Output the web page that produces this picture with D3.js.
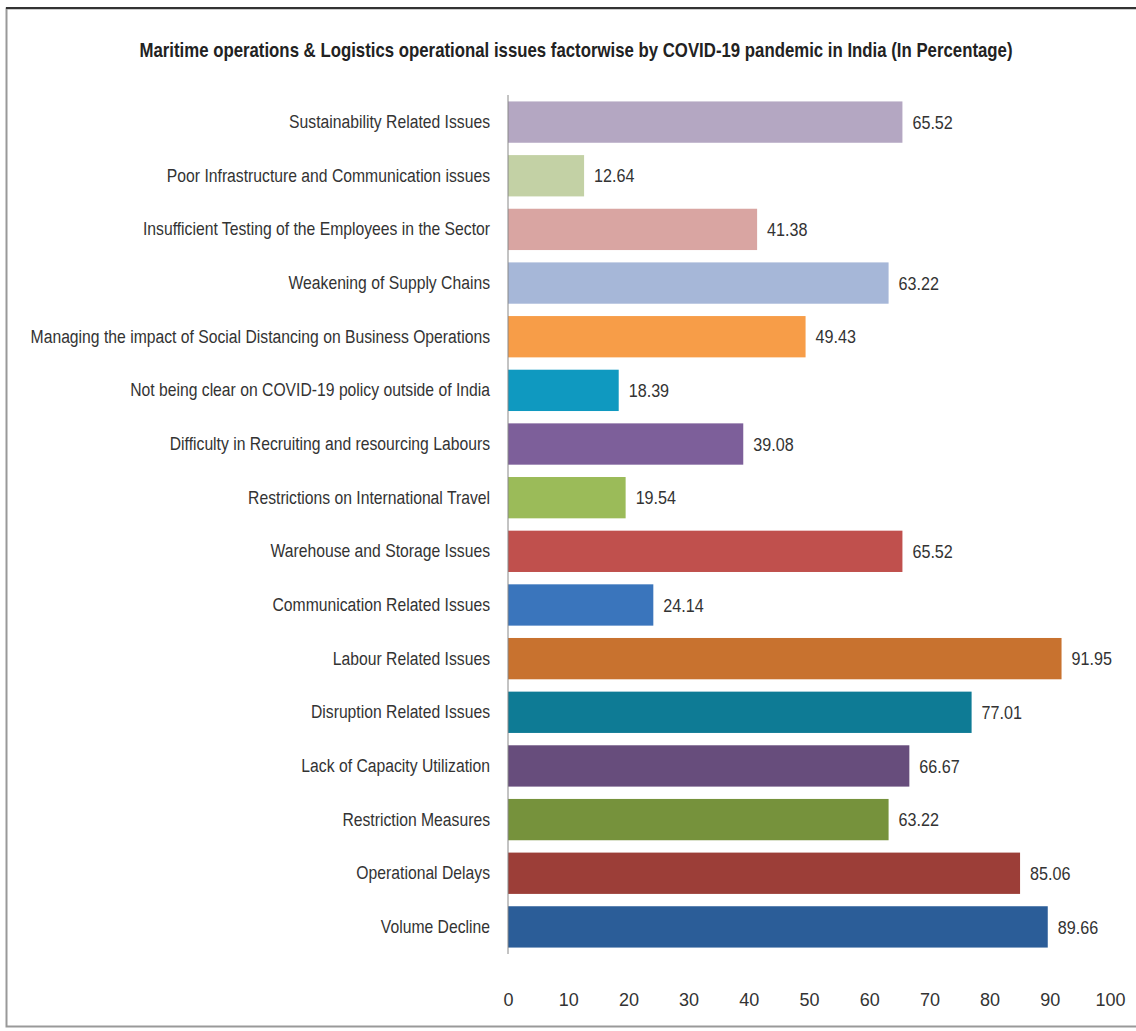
<!DOCTYPE html>
<html>
<head>
<meta charset="utf-8">
<script src="https://cdn.jsdelivr.net/npm/d3@7"></script>
<style>
  body { margin: 0; background: #fff; }
  text { font-family: "Liberation Sans", "Open Sans", sans-serif; }
</style>
</head>
<body>
<div id="chart"></div>
<script>
const categories = [
  'Sustainability Related Issues',
  'Poor Infrastructure and Communication issues',
  'Insufficient Testing of the Employees in the Sector',
  'Weakening of Supply Chains',
  'Managing the impact of Social Distancing on Business Operations',
  'Not being clear on COVID-19 policy outside of India',
  'Difficulty in Recruiting and resourcing Labours',
  'Restrictions on International Travel',
  'Warehouse and Storage Issues',
  'Communication Related Issues',
  'Labour Related Issues',
  'Disruption Related Issues',
  'Lack of Capacity Utilization',
  'Restriction Measures',
  'Operational Delays',
  'Volume Decline'
]
const values = [65.52, 12.64, 41.38, 63.22, 49.43, 18.39, 39.08, 19.54, 65.52, 24.14, 91.95, 77.01, 66.67, 63.22, 85.06, 89.66]
const barColors = ['#b4a7c2', '#c3d1a5', '#d9a5a2', '#a6b7d8', '#f79d48', '#0f99c0', '#7d5f9a', '#9bbb59',
  '#c0504d', '#3a75bc', '#c8722f', '#0e7b95', '#674d7c', '#76923c', '#9c3e38', '#2b5d98']
const xTicks = [0, 10, 20, 30, 40, 50, 60, 70, 80, 90, 100]

const W = 1136, H = 1031
const narrow = 0.85  // squeeze text to mimic the narrow original font

const svg = d3.select('#chart').append('svg')
  .attr('width', W)
  .attr('height', H)

// frame
svg.append('rect').attr('x', 6.5).attr('y', 8.5).attr('width', W).attr('height', 1018)
  .attr('fill', 'none').attr('stroke', '#999').attr('stroke-width', 2)
svg.append('line').attr('x1', 6).attr('x2', W).attr('y1', 8).attr('y2', 8)
  .attr('stroke', '#333').attr('stroke-width', 2)

svg.append('text')
  .attr('x', 576 / 0.84).attr('y', 57)
  .attr('transform', 'scale(0.84,1)')
  .attr('text-anchor', 'middle')
  .attr('fill', '#222')
  .style('font-size', '20px')
  .style('font-weight', 'bold')
  .text('Maritime operations  & Logistics operational issues factorwise by COVID-19 pandemic in India (In Percentage)')

const x = d3.scaleLinear().domain([0, 100]).range([508, 1110])
const y = d3.scaleBand().domain(categories).range([95, 954]).paddingInner(0.23).paddingOuter(0.12)

const g = svg.append('g')

g.selectAll('rect.bar')
  .data(values)
  .enter()
  .append('rect')
  .attr('class', 'bar')
  .attr('x', x(0))
  .attr('y', (d, i) => y(categories[i]))
  .attr('width', d => x(d) - x(0))
  .attr('height', y.bandwidth())
  .attr('fill', (d, i) => barColors[i])

g.selectAll('text.val')
  .data(values)
  .enter()
  .append('text')
  .attr('class', 'val')
  .attr('x', d => (x(d) + 10) / narrow)
  .attr('y', (d, i) => y(categories[i]) + y.bandwidth() / 2)
  .attr('transform', 'scale(' + narrow + ',1)')
  .attr('dy', '0.35em')
  .attr('fill', '#333')
  .style('font-size', '19px')
  .text(d => d.toFixed(2))

// category axis
const yAxis = svg.append('g')
  .attr('transform', 'translate(' + x(0) + ',0)')
  .call(d3.axisLeft(y).tickSize(0).tickPadding(18))
yAxis.select('.domain').attr('stroke', '#888').attr('d', 'M0,95V954')
yAxis.selectAll('text')
  .attr('x', -18 / narrow)
  .attr('transform', 'scale(' + narrow + ',1)')
  .attr('fill', '#333')
  .style('font-size', '18.5px')

// value axis (labels only)
const xAxis = svg.append('g')
  .attr('transform', 'translate(0,981)')
  .call(d3.axisBottom(x).tickValues(xTicks).tickSize(0).tickPadding(12))
xAxis.select('.domain').remove()
xAxis.selectAll('text').attr('fill', '#333').style('font-size', '18px')
</script>
</body>
</html>
